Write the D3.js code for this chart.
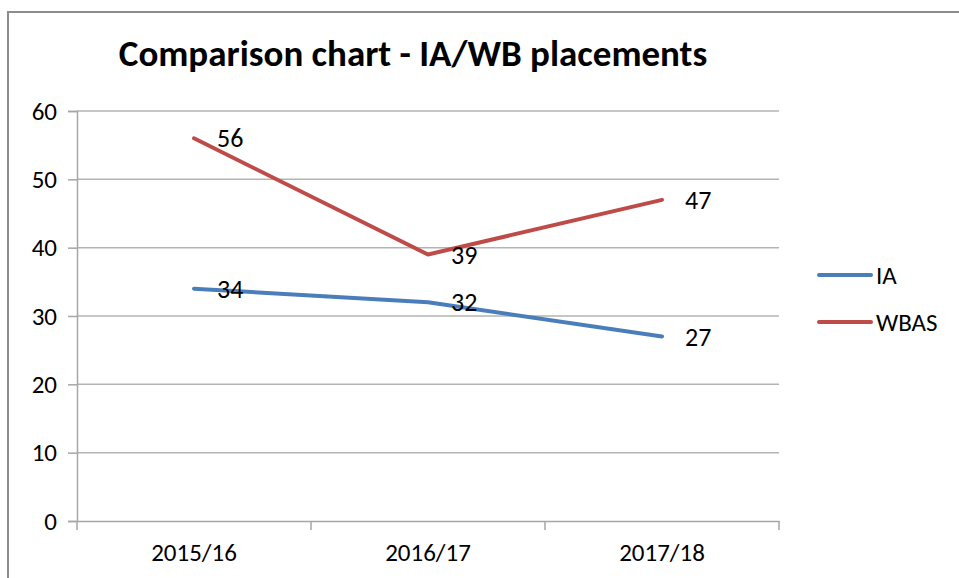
<!DOCTYPE html>
<html>
<head>
<meta charset="utf-8">
<script src="https://cdn.jsdelivr.net/npm/d3@7"></script>
<style>
  html, body { margin: 0; padding: 0; background: #fff; }
  svg { display: block; font-family: Carlito, Lato, sans-serif; }
  svg text { font-family: Carlito, Lato, sans-serif; }
</style>
</head>
<body>
<svg id="chart" width="959" height="578"></svg>
<script>
const title = "Comparison chart - IA/WB placements";
const categories = ["2015/16", "2016/17", "2017/18"];
const seriesNames = ["IA", "WBAS"];
const iaValues = [34, 32, 27];
const wbasValues = [56, 39, 47];
const yTicks = [0, 10, 20, 30, 40, 50, 60];
const colors = ["#4a7ebb", "#be4b48"];

const series = [
  { name: seriesNames[0], values: iaValues, color: colors[0] },
  { name: seriesNames[1], values: wbasValues, color: colors[1] }
];

const svg = d3.select("#chart");
const m = { left: 77, right: 779, top: 111, bottom: 521 };

// outer frame
svg.append("path")
  .attr("d", "M8,578 L8,12 L959,12")
  .attr("fill", "none").attr("stroke", "#8c8c8c").attr("stroke-width", 2);

svg.append("text")
  .attr("x", 413).attr("y", 66)
  .attr("text-anchor", "middle")
  .style("font-size", "37px").style("font-weight", "bold")
  .attr("fill", "#000")
  .text(title);

const x = d3.scaleBand().domain(categories).range([m.left, m.right]);
const y = d3.scaleLinear().domain([0, 60]).range([m.bottom, m.top]);

// gridlines
svg.append("g").selectAll("line").data(yTicks.filter(d => d > 0)).join("line")
  .attr("x1", m.left).attr("x2", m.right)
  .attr("y1", d => y(d)).attr("y2", d => y(d))
  .attr("stroke", "#b3b3b3").attr("stroke-width", 1.5);

// y axis
const yAxis = svg.append("g").attr("transform", `translate(${m.left},0)`)
  .call(d3.axisLeft(y).tickValues(yTicks).tickSize(9).tickPadding(11));
yAxis.select(".domain").attr("stroke", "#a6a6a6").attr("stroke-width", 1.5);
yAxis.selectAll(".tick line").attr("stroke", "#a6a6a6").attr("stroke-width", 1.5);
yAxis.selectAll("text").style("font-size", "25px").attr("fill", "#000");

// x axis
const xAxis = svg.append("g").attr("transform", `translate(0,${m.bottom})`)
  .call(d3.axisBottom(x).tickSize(0).tickPadding(22));
xAxis.select(".domain").attr("stroke", "#a6a6a6").attr("stroke-width", 1.5);
xAxis.selectAll("text").style("font-size", "25px").attr("fill", "#000");
// category boundary ticks
const bounds = categories.map(c => x(c)).concat([x(categories[categories.length - 1]) + x.bandwidth()]);
svg.append("g").selectAll("line").data(bounds).join("line")
  .attr("x1", d => d).attr("x2", d => d)
  .attr("y1", m.bottom).attr("y2", m.bottom + 9)
  .attr("stroke", "#a6a6a6").attr("stroke-width", 1.5);

const cx = c => x(c) + x.bandwidth() / 2;
const line = d3.line().x((d, i) => cx(categories[i])).y(d => y(d));

series.forEach(s => {
  svg.append("path").datum(s.values)
    .attr("d", line)
    .attr("fill", "none").attr("stroke", s.color)
    .attr("stroke-width", 4).attr("stroke-linejoin", "round").attr("stroke-linecap", "round");
});

series.forEach(s => {
  svg.append("g").selectAll("text").data(s.values).join("text")
    .attr("x", (d, i) => cx(categories[i]) + 23)
    .attr("y", d => y(d))
    .attr("dy", "0.35em")
    .style("font-size", "26px").attr("fill", "#000")
    .text(d => d);
});

// legend
const lg = svg.append("g");
series.forEach((s, i) => {
  const ly = 275 + i * 47;
  lg.append("line").attr("x1", 819).attr("x2", 871).attr("y1", ly).attr("y2", ly)
    .attr("stroke", s.color).attr("stroke-width", 4).attr("stroke-linecap", "round");
  lg.append("text").attr("x", 876).attr("y", ly).attr("dy", "0.35em")
    .style("font-size", "25px").attr("fill", "#000").text(s.name);
});
</script>
</body>
</html>
